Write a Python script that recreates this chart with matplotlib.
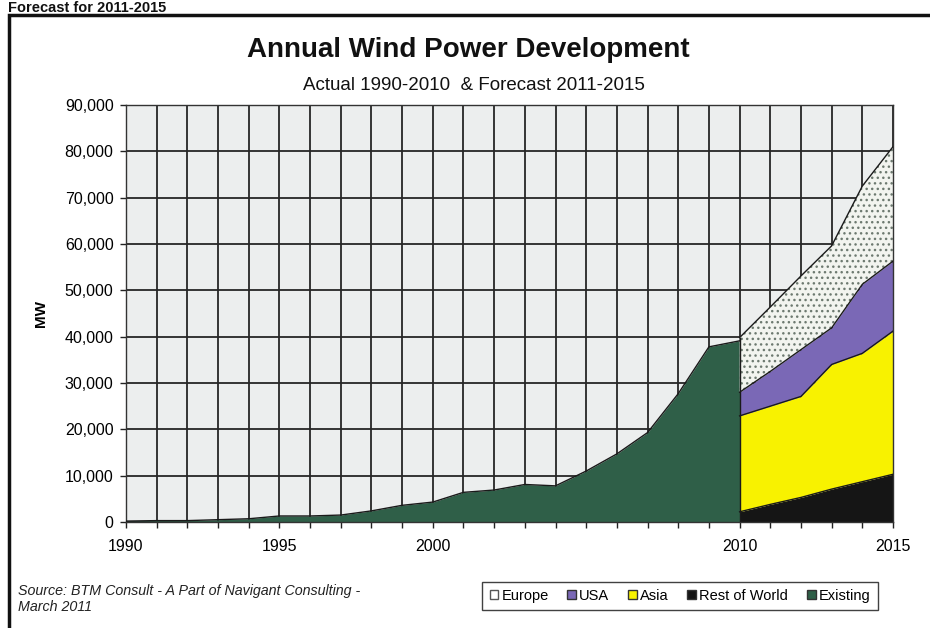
import matplotlib.pyplot as plt
from matplotlib.patches import Patch, Rectangle
from matplotlib.ticker import FuncFormatter

plt.rcParams['font.family'] = ['Liberation Sans', 'DejaVu Sans']

# Data (MW per year)
years_actual = list(range(1990, 2011))
existing = [200, 300, 300, 500, 700, 1300, 1300, 1500, 2400, 3600, 4300,
            6400, 6900, 8100, 7800, 11000, 14700, 19300, 27700, 37800, 39100]

years_fc = list(range(2010, 2016))
rest_of_world = [2200, 3800, 5300, 7100, 8700, 10300]
asia = [20700, 21200, 21800, 26900, 27700, 30900]
usa = [5100, 7500, 10100, 7900, 14900, 15100]
europe = [11800, 13900, 15900, 17700, 21200, 24700]

label_years = [1990, 1995, 2000, 2010, 2015]

c_green = '#2f5f48'
c_purple = '#7a68b6'
c_yellow = '#f8f200'
c_black = '#151515'
c_europe = '#f2f4ef'

fig = plt.figure(figsize=(9.3, 6.28), dpi=100)
ax = fig.add_axes([126/930, 1-522/628, (893-126)/930, (522-105)/628])
ax.set_facecolor('#eceeee')

# existing installations
ax.fill_between(years_actual, 0, existing, color=c_green, lw=0, zorder=2)
ax.plot(years_actual, existing, color='#1a1a1a', lw=1, zorder=3)

# forecast by region (stacked)
bottom = [0]*len(years_fc)
for vals, col in [(rest_of_world, c_black), (asia, c_yellow), (usa, c_purple), (europe, c_europe)]:
    top = [b + v for b, v in zip(bottom, vals)]
    if col == c_europe:
        ax.fill_between(years_fc, bottom, top, facecolor=col, edgecolor='#6d7a70',
                        hatch='...', lw=0, zorder=2)
    else:
        ax.fill_between(years_fc, bottom, top, color=col, lw=0, zorder=2)
    ax.plot(years_fc, top, color='#1a1a1a', lw=1, zorder=3)
    bottom = top
ax.plot([2010, 2010], [0, bottom[0]], color='#1a1a1a', lw=1, zorder=3)

ax.set_xlim(1990, 2015)
ax.set_ylim(0, 90000)
ax.set_xticks(range(1990, 2016))
ax.set_xticklabels([str(y) if y in label_years else '' for y in range(1990, 2016)])
ax.set_yticks(range(0, 90001, 10000))
ax.yaxis.set_major_formatter(FuncFormatter(lambda v, p: f'{int(v):,}'))
ax.tick_params(axis='both', labelsize=11.5, length=4, width=1, color='#222', pad=5)
ax.tick_params(axis='x', pad=8)
ax.grid(True, color='#262626', lw=1.3)
ax.set_axisbelow(True)
for s in ax.spines.values():
    s.set_color('#333')
    s.set_linewidth(1)
ax.set_ylabel('MW', fontsize=11, fontweight='bold', labelpad=12)

fig.text(468/930, 1-50/628, 'Annual Wind Power Development', ha='center', va='center',
         fontsize=20, fontweight='bold', color='#111')
fig.text(474/930, 1-86/628, 'Actual 1990-2010  & Forecast 2011-2015', ha='center',
         va='center', fontsize=13.5, color='#111')
fig.text(8/930, 1-12/628, 'Forecast for 2011-2015', ha='left', va='baseline',
         fontsize=10.5, fontweight='bold', color='#111')

# page frame
fig.patches.append(Rectangle((9/930, -0.5), 2, 1.5 - 15/628, transform=fig.transFigure,
                             fill=False, edgecolor='#111', lw=2.5))

fig.text(18/930, 1-599/628, 'Source: BTM Consult - A Part of Navigant Consulting -\nMarch 2011',
         ha='left', va='center', fontsize=10.3, style='italic', color='#222',
         linespacing=1.15)

handles = [Patch(facecolor='white', edgecolor='#555', lw=1),
           Patch(facecolor=c_purple, edgecolor='#333', lw=1),
           Patch(facecolor=c_yellow, edgecolor='#333', lw=1),
           Patch(facecolor=c_black, edgecolor='#333', lw=1),
           Patch(facecolor=c_green, edgecolor='#333', lw=1)]
labels = ['Europe', 'USA', 'Asia', 'Rest of World', 'Existing']
leg = fig.legend(handles, labels, loc='center', bbox_to_anchor=(680/930, 1-596/628),
                 ncol=5, fontsize=10.5, handlelength=0.6, handleheight=0.6,
                 handletextpad=0.2, columnspacing=1.3, fancybox=False,
                 edgecolor='#111', borderpad=0.5)
leg.get_frame().set_linewidth(1)

fig.savefig('out.png', dpi=100, facecolor='white')
